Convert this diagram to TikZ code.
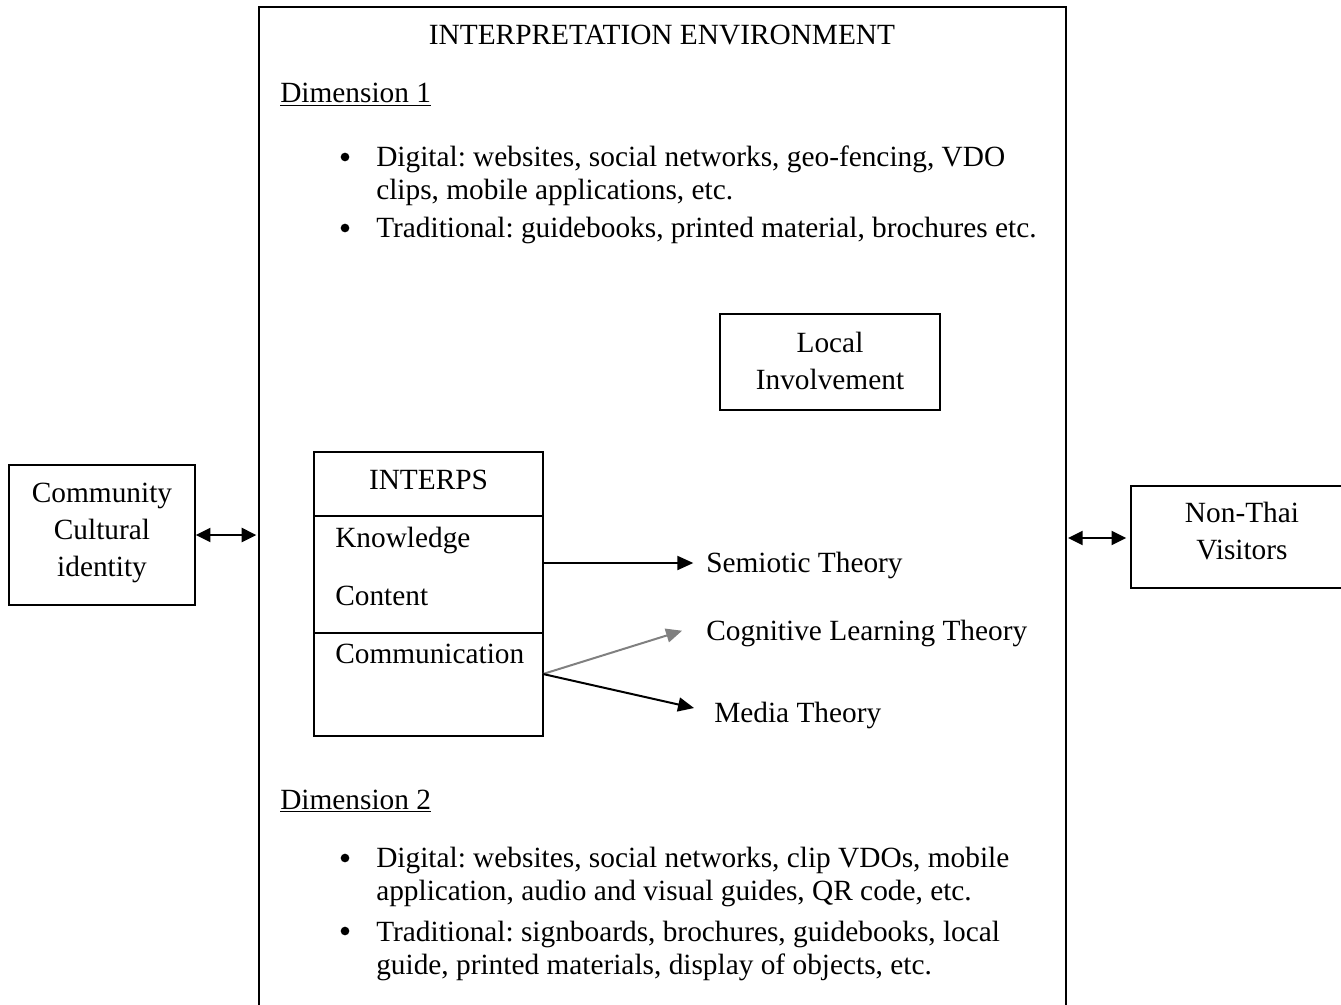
\documentclass[tikz,border=0pt]{standalone}
\usepackage{fontspec}
\setmainfont{Liberation Serif}
\usetikzlibrary{arrows.meta,positioning}
\frenchspacing

\tikzset{
  frame/.style={draw, line width=1.1pt, inner sep=0pt, align=center},
  txt/.style={inner sep=0pt, anchor=base west},
  item/.style={inner sep=0pt, anchor=base west, align=left,
    font=\fontsize{22}{24.75}\selectfont},
  dot/.style={circle, fill, inner sep=0pt, minimum size=6.5pt},
  link/.style={-{Triangle[length=12pt,width=10.5pt]}, line width=1.5pt},
  twoway/.style={{Triangle[length=11pt,width=10.5pt]}-{Triangle[length=11pt,width=10.5pt]}, line width=1.6pt},
}

\begin{document}
\begin{tikzpicture}[x=0.75pt,y=-0.75pt,font=\fontsize{22}{27.75}\selectfont]
	\useasboundingbox (0,0) rectangle (1341,1005);
	% environment frame, open at the bottom
	\draw[line width=1.1pt] (259,1012) |- (1066,7) -- (1066,1012);
	\coordinate (envW) at (259,536);
	\coordinate (envE) at (1066,538);
	\node[inner sep=0pt, anchor=base] (title) at (662,45) {INTERPRETATION ENVIRONMENT};

	% dimension 1 (multi-line items sit on their last baseline)
	\node[txt] (dimA) at (280,103) {\underline{Dimension 1}};
	\foreach \y in {157,228}
		\node[dot] at (345,\y) {};
	\node[item] (digA) at (376,200) {Digital: websites, social networks, geo-fencing, VDO\\clips, mobile applications, etc.};
	\node[item] (tradA) at (376,238) {Traditional: guidebooks, printed material, brochures etc.};

	\node[frame, minimum width=165pt, minimum height=72pt] (local) at (830,362) {};
	\node[align=center, inner sep=0pt] (localTxt) at (830,361) {Local\\Involvement};

	% INTERPS box with its three parts
	\node[frame, minimum width=171.75pt, minimum height=213pt] (interps) at (428.5,594) {};
	\draw[line width=1.1pt] (interps.west |- 0,516) -- (interps.east |- 0,516)
		(interps.west |- 0,633) -- (interps.east |- 0,633);
	\node[inner sep=0pt, anchor=base] (head) at (428.5,489) {INTERPS};
	\node[txt] (know) at (335,547) {Knowledge};
	\node[txt] (cont) at (335,605) {Content};
	\node[txt] (comm) at (335,663) {Communication};
	\coordinate (k) at (543,563);
	\coordinate (c) at (543,674);

	\node[txt] (semio) at (706,572) {Semiotic Theory};
	\node[txt] (cogn) at (706,640) {Cognitive Learning Theory};
	\node[txt] (media) at (714,722) {Media Theory};
	\draw[link, shorten >=9.5pt] (k) -- (k -| semio.west);
	\draw[link, draw=gray, fill=gray, shorten >=1pt] (c) -- ([xshift=-17pt,yshift=2pt]cogn.west);
	\draw[link, shorten >=1pt] (c) -- ([xshift=-14pt,yshift=5pt]media.west);

	% dimension 2
	\node[txt] (dimB) at (280,809) {\underline{Dimension 2}};
	\foreach \y in {858,931}
		\node[dot] at (345,\y) {};
	\node[item] (digB) at (376,900) {Digital: websites, social networks, clip VDOs, mobile\\application, audio and visual guides, QR code, etc.};
	\node[item] (tradB) at (376,974) {Traditional: signboards, brochures, guidebooks, local\\guide, printed materials, display of objects, etc.};

	% both sides
	\node[frame, minimum width=139.5pt, minimum height=105pt] (cci) at (102,535) {};
	\node[align=center, inner sep=0pt] (cciTxt) at (102,533) {Community\\Cultural\\identity};
	\node[frame, minimum width=158.25pt, minimum height=76.5pt] (visit) at (1236.5,537) {};
	\node[align=center, inner sep=0pt] (visitTxt) at (1242,531) {Non-Thai\\Visitors};
	\draw[twoway] (cci.east) -- ([xshift=-2pt]cci.east -| envW);
	\draw[twoway] ([xshift=1.5pt]envE) -- ([xshift=-3pt]envE -| visit.west);
\end{tikzpicture}
\end{document}
